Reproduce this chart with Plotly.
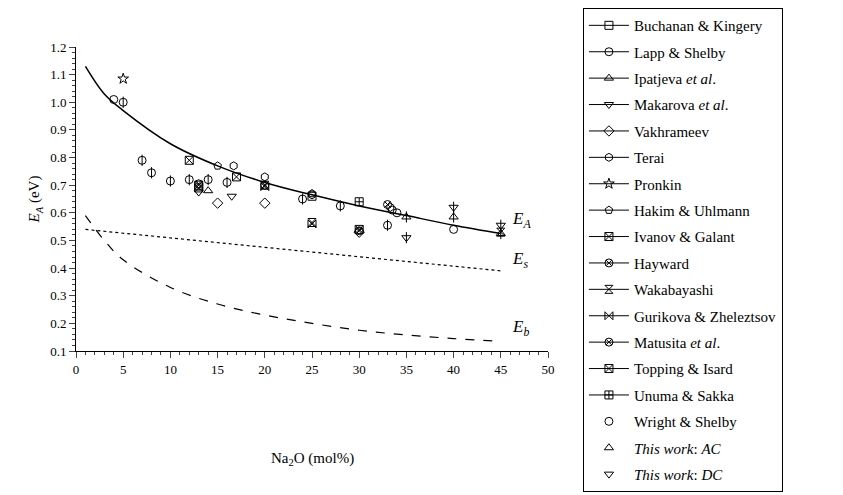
import plotly.graph_objects as go

# fitted curves
curve_x = [1, 3, 5, 10, 15, 20, 25, 30, 35, 40, 45]
ea_y = [1.13, 1.03, 0.97, 0.85, 0.77, 0.71, 0.665, 0.625, 0.59, 0.555, 0.525]
es_y = [0.54, 0.533, 0.526, 0.509, 0.492, 0.475, 0.458, 0.441, 0.424, 0.407, 0.39]
eb_y = [0.59, 0.50, 0.43, 0.33, 0.27, 0.23, 0.20, 0.175, 0.158, 0.145, 0.135]

# data sets
buchanan_x, buchanan_y = [25], [0.66]
lapp_x, lapp_y = [4, 33.5, 34, 40], [1.01, 0.61, 0.60, 0.54]
ipatjeva_x, ipatjeva_y = [14], [0.68]
makarova_x, makarova_y = [13, 16.5], [0.675, 0.66]
vakh_x, vakh_y = [15, 20, 30], [0.635, 0.635, 0.53]
terai_x, terai_y = [16.7, 20, 25, 33.3], [0.77, 0.73, 0.665, 0.62]
pronkin_x, pronkin_y = [5], [1.085]
hakim_x, hakim_y = [15, 25], [0.77, 0.67]
ivanov_x, ivanov_y = [12, 17, 13], [0.79, 0.73, 0.70]
hayward_x, hayward_y = [13, 20], [0.705, 0.70]
waka_x, waka_y = [20, 25, 45], [0.70, 0.565, 0.53]
gurikova_x, gurikova_y = [20, 25], [0.695, 0.56]
matusita_x, matusita_y = [33, 30], [0.63, 0.535]
topping_x, topping_y = [13, 30], [0.69, 0.54]
unuma_x, unuma_y = [30], [0.64]
wright_x = [5, 7, 8, 10, 12, 14, 16, 24, 28, 33]
wright_y = [1.00, 0.79, 0.745, 0.715, 0.72, 0.72, 0.71, 0.65, 0.625, 0.555]
ac_x, ac_y = [35, 40, 45], [0.585, 0.585, 0.525]
dc_x, dc_y = [35, 40, 45], [0.51, 0.62, 0.555]

sets = [
    ("Buchanan & Kingery", "square-open", buchanan_x, buchanan_y),
    ("Lapp & Shelby", "circle-open", lapp_x, lapp_y),
    ("Ipatjeva <i>et al</i>.", "triangle-up-open", ipatjeva_x, ipatjeva_y),
    ("Makarova <i>et al</i>.", "triangle-down-open", makarova_x, makarova_y),
    ("Vakhrameev", "diamond-open", vakh_x, vakh_y),
    ("Terai", "hexagon-open", terai_x, terai_y),
    ("Pronkin", "star-open", pronkin_x, pronkin_y),
    ("Hakim & Uhlmann", "pentagon-open", hakim_x, hakim_y),
    ("Ivanov & Galant", "square-x-open", ivanov_x, ivanov_y),
    ("Hayward", "circle-x-open", hayward_x, hayward_y),
    ("Wakabayashi", "hourglass-open", waka_x, waka_y),
    ("Gurikova & Zheleztsov", "bowtie-open", gurikova_x, gurikova_y),
    ("Matusita <i>et al</i>.", "circle-x-open", matusita_x, matusita_y),
    ("Topping & Isard", "square-x-open", topping_x, topping_y),
    ("Unuma & Sakka", "square-cross-open", unuma_x, unuma_y),
]
plain_sets = [
    ("Wright & Shelby", "circle-open", wright_x, wright_y),
    ("<i>This work</i>: <i>AC</i>", "triangle-up-open", ac_x, ac_y),
    ("<i>This work</i>: <i>DC</i>", "triangle-down-open", dc_x, dc_y),
]

fig = go.Figure()
fig.add_trace(go.Scatter(x=curve_x, y=ea_y, mode="lines", line=dict(color="black", width=1.5, shape="spline"), showlegend=False))
fig.add_trace(go.Scatter(x=curve_x, y=es_y, mode="lines", line=dict(color="black", width=1.2, dash="dot"), showlegend=False))
fig.add_trace(go.Scatter(x=curve_x, y=eb_y, mode="lines", line=dict(color="black", width=1.2, dash="dash", shape="spline"), showlegend=False))

mk = dict(color="black", size=8, line=dict(width=1, color="black"))
for i, (name, sym, xs, ys) in enumerate(sets):
    g = "g%d" % i
    fig.add_trace(go.Scatter(x=xs, y=ys, mode="markers", marker=dict(symbol=sym, **mk), showlegend=False))
    fig.add_trace(go.Scatter(x=[None], y=[None], mode="lines+markers", name=name, legendgroup=g,
                             line=dict(color="black", width=1), marker=dict(symbol=sym, **mk)))
for i, (name, sym, xs, ys) in enumerate(plain_sets):
    g = "p%d" % i
    fig.add_trace(go.Scatter(x=xs, y=ys, mode="markers", name=name, legendgroup=g, marker=dict(symbol=sym, **mk)))
    fig.add_trace(go.Scatter(x=xs, y=ys, mode="markers", showlegend=False,
                             marker=dict(symbol="line-ns-open", color="black", size=8, line=dict(width=1, color="black"))))

for txt, xx, yy in [("E<sub>A</sub>", 46, 0.575), ("E<sub>s</sub>", 46, 0.43), ("E<sub>b</sub>", 46, 0.185)]:
    fig.add_annotation(x=xx, y=yy, text="<i>" + txt + "</i>", showarrow=False, xanchor="left",
                       font=dict(size=17, family="Liberation Serif", color="black"))
fig.add_annotation(x=0.5, y=-0.39, xref="paper", yref="paper", text="Na<sub>2</sub>O (mol%)", showarrow=False,
                   font=dict(size=15, family="Liberation Serif", color="black"))

axis = dict(showline=True, linecolor="black", linewidth=1, ticks="outside", ticklen=6, showgrid=False,
            zeroline=False, tickfont=dict(size=13, family="Liberation Serif", color="black"),
            minor=dict(ticks="outside", ticklen=3))
fig.update_xaxes(range=[0, 50], dtick=5, **axis)
fig.update_yaxes(range=[0.1, 1.2], dtick=0.1, tickformat=".1f",
                 title=dict(text="<i>E<sub>A</sub></i> (eV)", font=dict(size=15, family="Liberation Serif"), standoff=6), **axis)
fig.update_layout(
    width=843, height=495, plot_bgcolor="white", paper_bgcolor="white",
    margin=dict(l=68, r=303, t=39, b=152, autoexpand=False),
    font=dict(family="Liberation Serif", color="black"),
    legend=dict(x=1.074, y=1.128, yanchor="top", bordercolor="black", borderwidth=1, maxheight=487,
                font=dict(size=15, family="Liberation Serif"), tracegroupgap=3.9, itemwidth=40),
)
fig.write_html("out.html")
